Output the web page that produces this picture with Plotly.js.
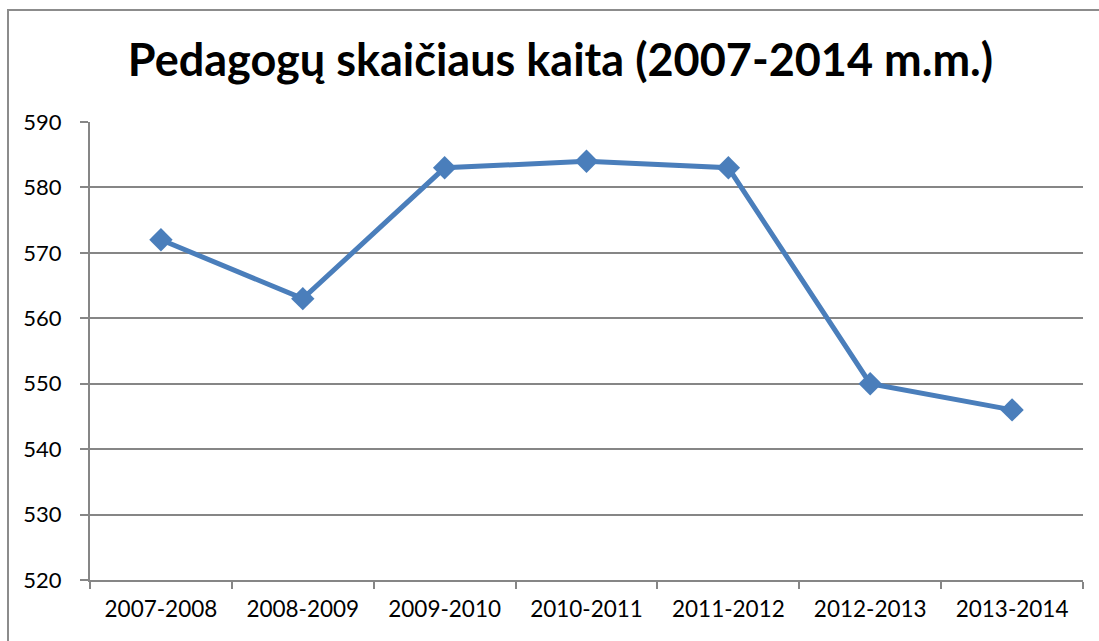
<!DOCTYPE html>
<html><head><meta charset="utf-8">
<script src="https://cdn.plot.ly/plotly-3.0.1.min.js"></script>
<style>html,body{margin:0;padding:0;background:#fff;overflow:hidden}
#frame{position:absolute;left:7px;top:9px;width:1200px;height:800px;border:2px solid #8c8c8c;pointer-events:none;box-sizing:border-box}
</style></head><body>
<div id="chart" style="width:1099px;height:641px"></div>
<div id="frame"></div>
<script>
const categories = ["2007-2008","2008-2009","2009-2010","2010-2011","2011-2012","2012-2013","2013-2014"];
const teachers = [572, 563, 583, 584, 583, 550, 546];
const yTicks = [520, 530, 540, 550, 560, 570, 580, 590];

const fontFam = "Lato, 'Open Sans', sans-serif";
Plotly.newPlot('chart', [{
  x: categories, y: teachers, type: 'scatter', mode: 'lines+markers',
  line: {color: '#4A7EBB', width: 5},
  marker: {symbol: 'diamond', size: 18, color: '#4A7EBB'},
  showlegend: false, hoverinfo: 'skip'
}], {
  width: 1099, height: 641,
  margin: {l: 90, r: 16, t: 122, b: 61},
  paper_bgcolor: 'rgba(0,0,0,0)', plot_bgcolor: '#fff',
  title: {text: '<b>Pedagogų skaičiaus kaita (2007-2014 m.m.)</b>', x: 0.51, xanchor: 'center', y: 0.906, yanchor: 'middle',
          font: {family: fontFam, size: 45, color: '#000'}},
  xaxis: {type: 'category', range: [-0.5, 6.5], tickson: 'boundaries', ticks: 'outside', ticklen: 7, tickwidth: 2,
          tickcolor: '#868686', showgrid: false, showline: true, linecolor: '#868686', linewidth: 2,
          tickfont: {family: fontFam, size: 22.5, color: '#000'}, ticklabelstandoff: 8, fixedrange: true},
  yaxis: {range: [520, 590], tickvals: yTicks, ticktext: yTicks.map(String), ticks: 'outside', ticklen: 8, tickwidth: 2,
          tickcolor: '#868686', showgrid: true, gridcolor: '#868686', gridwidth: 2, showline: true, linecolor: '#868686', linewidth: 2,
          zeroline: false, tickfont: {family: fontFam, size: 22, color: '#000'}, ticklabelstandoff: 14, fixedrange: true}
}, {displayModeBar: false, staticPlot: true});
</script></body></html>
